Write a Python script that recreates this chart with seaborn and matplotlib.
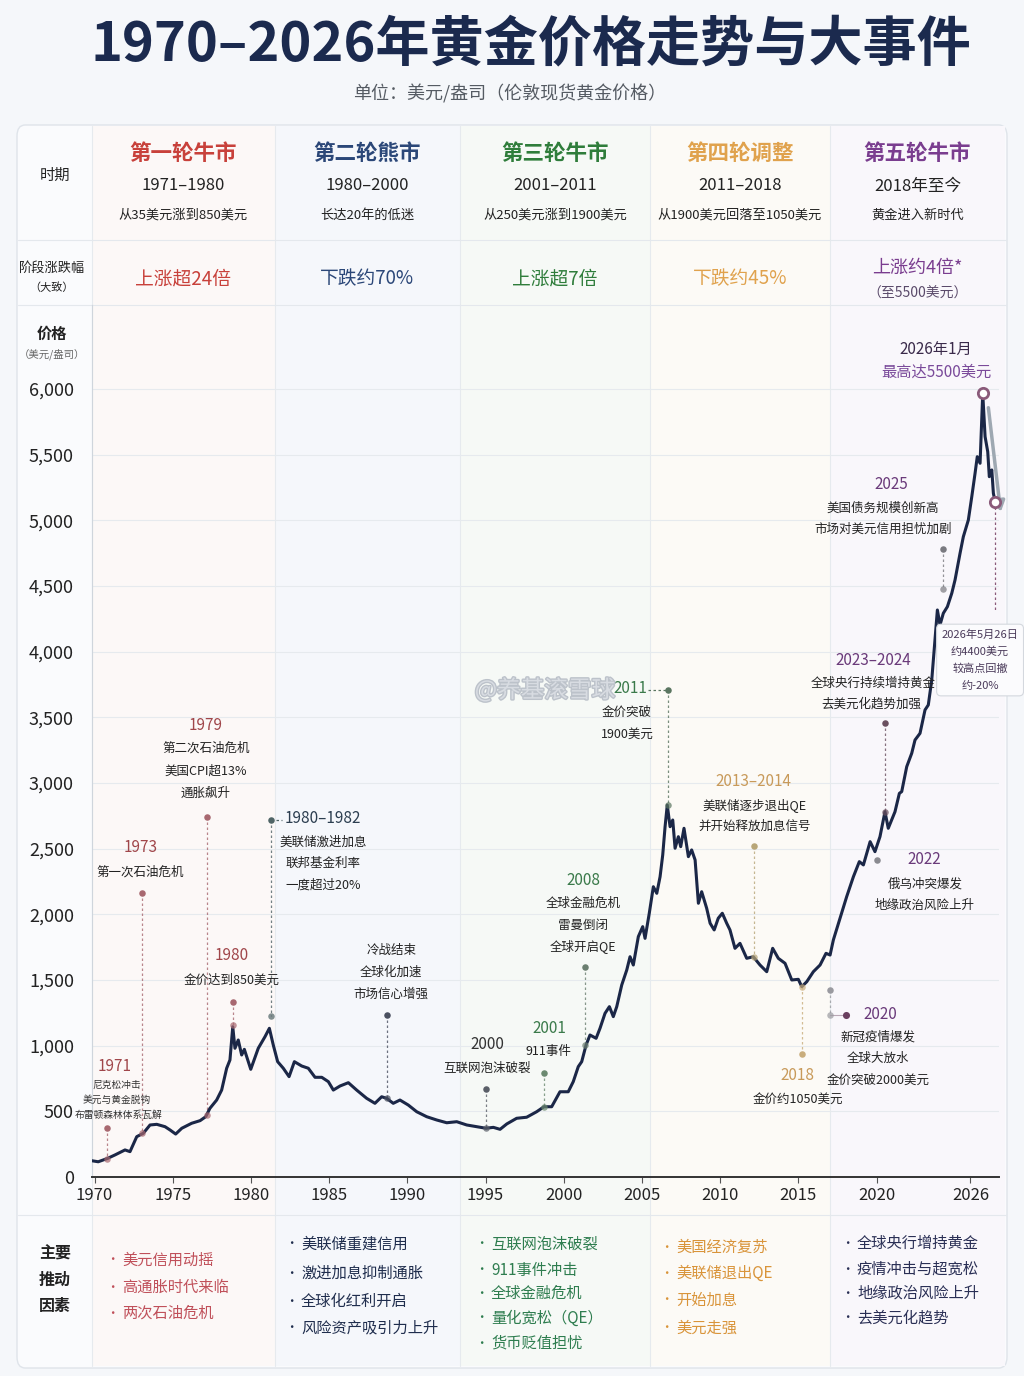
import matplotlib
matplotlib.use("Agg")
import matplotlib.pyplot as plt
from matplotlib.patches import Rectangle, FancyBboxPatch
import matplotlib.patheffects as pe
import pandas as pd
import seaborn as sns

# gold price trace (year, USD/oz)
years = [1969.82, 1970.24, 1970.84, 1971.31, 1971.95, 1972.27, 1972.70, 1973.12, 1973.55, 1973.98,
         1974.51, 1974.83, 1975.19, 1975.58, 1976.21, 1976.75, 1977.11, 1977.38, 1977.81, 1978.13,
         1978.45, 1978.66, 1978.84, 1978.98, 1979.19, 1979.41, 1979.58, 1979.99, 1980.47, 1980.90,
         1981.18, 1981.43, 1981.71, 1982.07, 1982.44, 1982.78, 1983.25, 1983.67, 1984.10, 1984.53,
         1984.95,
         1985.27, 1985.70, 1986.23, 1986.76, 1987.40, 1987.93, 1988.36, 1988.68, 1989.10, 1989.53,
         1990.06, 1990.60, 1991.24, 1991.88, 1992.52, 1993.16, 1993.80, 1994.44, 1995.03, 1995.50,
         1995.93, 1996.36, 1996.99, 1997.63, 1998.27, 1998.74, 1999.23, 1999.76,
         2000.29, 2000.61, 2000.93, 2001.15, 2001.43, 2001.68, 2002.07, 2002.32, 2002.64, 2002.92,
         2003.17, 2003.39, 2003.71, 2004.03, 2004.24, 2004.45, 2004.77, 2005.05, 2005.20, 2005.47,
         2005.73, 2005.95, 2006.16, 2006.33, 2006.48, 2006.62, 2006.80, 2006.97, 2007.12, 2007.33,
         2007.48, 2007.69, 2007.97, 2008.18, 2008.40, 2008.61, 2008.82, 2009.14, 2009.36, 2009.62,
         2009.88, 2010.14, 2010.42, 2010.63, 2010.95, 2011.27, 2011.70, 2012.12, 2012.55,
         2012.98, 2013.36, 2013.72, 2014.15, 2014.58, 2015.00, 2015.22, 2015.54, 2015.96, 2016.39,
         2016.77, 2017.03, 2017.24, 2017.67, 2018.09, 2018.52, 2018.90, 2019.16, 2019.59, 2019.90,
         2020.22, 2020.54, 2020.75, 2021.18, 2021.46,
         2021.61, 2021.93, 2022.25, 2022.46, 2022.78, 2023.10, 2023.31, 2023.53, 2023.74, 2023.89,
         2024.06, 2024.27, 2024.53, 2024.81, 2025.02, 2025.34, 2025.55, 2025.87, 2026.09, 2026.30,
         2026.44, 2026.62, 2026.79, 2026.94, 2027.11, 2027.21, 2027.37, 2027.47, 2027.58]
prices = [124, 116, 142, 168, 206, 193, 307, 333, 396, 401,
          383, 358, 327, 371, 409, 429, 459, 523, 586, 662,
          828, 891, 1144, 980, 1043, 929, 972, 820, 980, 1068,
          1132, 1005, 878, 828, 764, 878, 845, 828, 759, 759,
          726,
          662, 693, 718, 662, 599, 561, 611, 599, 561, 586,
          548, 497, 459, 434, 413, 421, 396, 383, 371, 378,
          363, 404, 447, 455, 497, 535, 535, 649,
          649, 726, 840, 878, 1005, 1081, 1056, 1132, 1246, 1297,
          1221, 1297, 1462, 1576, 1677, 1614, 1830, 1906, 1817, 2008,
          2210, 2160, 2286, 2452, 2667, 2832, 2667, 2718, 2503, 2591,
          2515, 2655, 2439, 2490, 2414, 2084, 2172, 2046, 1932, 1881,
          1970, 2008, 1932, 1881, 1741, 1779, 1665, 1677, 1614,
          1563, 1741, 1665, 1627, 1500, 1505, 1449, 1487, 1563, 1614,
          1703, 1690, 1805, 1970, 2134, 2286, 2401, 2376, 2553, 2477,
          2591, 2781, 2655, 2781, 2921,
          2934, 3124, 3226, 3327, 3378, 3556, 3594, 3784, 4089, 4317,
          4203, 4292, 4342, 4444, 4546, 4749, 4875, 5002, 5180, 5358,
          5484, 5434, 5967, 5637, 5522, 5332, 5383, 5206, 5142]

x_ticks = [1970, 1975, 1980, 1985, 1990, 1995, 2000, 2005, 2010, 2015, 2020, 2026]
y_ticks = [0, 500, 1000, 1500, 2000, 2500, 3000, 3500, 4000, 4500, 5000, 5500, 6000]

era_titles = ['第一轮牛市', '第二轮熊市', '第三轮牛市', '第四轮调整', '第五轮牛市']
era_spans = ['1971–1980', '1980–2000', '2001–2011', '2011–2018', '2018年至今']
era_desc = ['从35美元涨到850美元', '长达20年的低迷', '从250美元涨到1900美元',
            '从1900美元回落至1050美元', '黄金进入新时代']
era_change = ['上涨超24倍', '下跌约70%', '上涨超7倍', '下跌约45%', '上涨约4倍*']
era_colors = ['#c8413b', '#2b4778', '#2f7d3b', '#e0a24d', '#7a3d8f']
era_tints = ['#fcf8f7', '#f5f7fb', '#f6f9f6', '#fcfaf6', '#f9f7fb']
drivers = [['美元信用动摇', '高通胀时代来临', '两次石油危机'],
           ['美联储重建信用', '激进加息抑制通胀', '全球化红利开启', '风险资产吸引力上升'],
           ['互联网泡沫破裂', '911事件冲击', '全球金融危机', '量化宽松（QE）', '货币贬值担忧'],
           ['美国经济复苏', '美联储退出QE', '开始加息', '美元走强'],
           ['全球央行增持黄金', '疫情冲击与超宽松', '地缘政治风险上升', '去美元化趋势']]
driver_colors = ['#c0505a', '#1f2d4d', '#2e7d4f', '#d9943a', '#2a2f55']

# event stems: year, dot price, price where it meets the curve, colour
stems = [(1970.80, 373, 137, '#a86870'), (1973.04, 2166, 333, '#a86870'),
         (1977.19, 2741, 472, '#a86870'), (1978.86, 1332, 1157, '#a86870'),
         (1981.29, 2718, 1226, '#4f6466'), (1988.70, 1233, 599, '#4a5060'),
         (1995.03, 670, 371, '#5a5f68'), (1998.74, 792, 535, '#6b8a70'),
         (2001.36, 1599, 1005, '#6b7f70'), (2006.65, 3708, 2832, '#5a7560'),
         (2012.17, 2520, 1677, '#b8a678'), (2015.24, 933, 1447, '#c9ad7c'),
         (2017.01, 1424, 1230, '#9a9aa0'), (2020.54, 3457, 2781, '#6a4f5f'),
         (2024.23, 4782, 4477, '#7a7a80')]

# event labels: year, price, text, colour, size
labels = [
    (1971.31, 838, '1971', '#a0464a', 11), (1971.45, 700, '尼克松冲击', '#333', 7),
    (1971.45, 586, '美元与黄金脱钩', '#333', 7), (1971.55, 472, '布雷顿森林体系瓦解', '#333', 7),
    (1972.92, 2505, '1973', '#a0464a', 11), (1972.92, 2322, '第一次石油危机', '#222', 9),
    (1977.13, 3441, '1979', '#a0464a', 11), (1977.13, 3266, '第二次石油危机', '#222', 9),
    (1977.13, 3091, '美国CPI超13%', '#222', 9), (1977.13, 2924, '通胀飙升', '#222', 9),
    (1978.79, 1683, '1980', '#a0464a', 11), (1978.79, 1500, '金价达到850美元', '#222', 9),
    (1984.61, 2733, '1980–1982', '#2c3e50', 11), (1984.61, 2551, '美联储激进加息', '#222', 9),
    (1984.61, 2391, '联邦基金利率', '#222', 9), (1984.61, 2223, '一度超过20%', '#222', 9),
    (1988.96, 1721, '冷战结束', '#222', 9), (1988.96, 1561, '全球化加速', '#222', 9),
    (1988.96, 1393, '市场信心增强', '#222', 9),
    (1995.09, 1005, '2000', '#333', 11), (1995.09, 830, '互联网泡沫破裂', '#222', 9),
    (1999.06, 1134, '2001', '#3a7a4a', 11), (1999.0, 952, '911事件', '#222', 9),
    (2001.23, 2261, '2008', '#3a7a4a', 11), (2001.23, 2086, '全球金融危机', '#222', 9),
    (2001.23, 1919, '雷曼倒闭', '#222', 9), (2001.23, 1759, '全球开启QE', '#222', 9),
    (2004.24, 3716, '2011', '#3a7a4a', 11), (2004.05, 3541, '金价突破', '#222', 9),
    (2004.1, 3373, '1900美元', '#222', 9),
    (2012.10, 3008, '2013–2014', '#c89a5a', 11), (2012.2, 2832, '美联储逐步退出QE', '#222', 9),
    (2012.2, 2672, '并开始释放加息信号', '#222', 9),
    (2014.92, 769, '2018', '#c89a5a', 11), (2014.98, 594, '金价约1050美元', '#222', 9),
    (2020.22, 1241, '2020', '#6a3a7a', 11), (2020.09, 1066, '新冠疫情爆发', '#222', 9),
    (2020.09, 906, '全球大放水', '#222', 9), (2020.09, 739, '金价突破2000美元', '#222', 9),
    (2023.03, 2414, '2022', '#6a3a7a', 11), (2023.09, 2231, '俄乌冲突爆发', '#222', 9),
    (2023.09, 2071, '地缘政治风险上升', '#222', 9),
    (2019.77, 3929, '2023–2024', '#6a3a7a', 11), (2019.77, 3761, '全球央行持续增持黄金', '#222', 9),
    (2019.64, 3601, '去美元化趋势加强', '#222', 9),
    (2020.92, 5269, '2025', '#6a3a7a', 11), (2020.41, 5094, '美国债务规模创新高', '#222', 9),
    (2020.41, 4934, '市场对美元信用担忧加剧', '#222', 9),
    (2023.80, 6297, '2026年1月', '#3a2a4a', 11), (2023.80, 6129, '最高达5500美元', '#7a4a9a', 11),
]

peak_year, peak_price = 2026.79, 5967
last_year, last_price = 2027.58, 5142

sns.set_theme(style="white")
plt.rcParams['font.family'] = ['Noto Sans CJK SC', 'DejaVu Sans']
plt.rcParams['axes.unicode_minus'] = False

W, H = 1024, 1376
fig = plt.figure(figsize=(W / 100, H / 100), dpi=100)
fig.patch.set_facecolor('#f5f7fa')


def fx(x):
    return x / W


def fy(y):
    return 1 - y / H


def ftext(x, y, s, **kw):
    kw.setdefault('ha', 'center')
    kw.setdefault('va', 'center')
    fig.text(fx(x), fy(y), s, **kw)


def frect(x0, y0, x1, y1, **kw):
    fig.add_artist(Rectangle((fx(x0), fy(y1)), fx(x1) - fx(x0), fy(y0) - fy(y1),
                             transform=fig.transFigure, **kw))


def fline(x0, y0, x1, y1, **kw):
    fig.add_artist(plt.Line2D([fx(x0), fx(x1)], [fy(y0), fy(y1)], transform=fig.transFigure, **kw))


# panel + era tints
fig.add_artist(FancyBboxPatch((fx(17), fy(1368)), fx(1007) - fx(17), fy(125) - fy(1368),
                              boxstyle='round,pad=0,rounding_size=0.008', transform=fig.transFigure,
                              facecolor='#fafbfd', edgecolor='#dfe4ea', lw=1, zorder=-3))
edges = [92, 275, 460, 650, 830, 1005]
for i in range(5):
    frect(edges[i], 126, edges[i + 1], 1366, facecolor=era_tints[i], edgecolor='none', zorder=-2)
for x in edges[:-1]:
    fline(x, 126, x, 1366, color='#e6eaee', lw=0.8, zorder=-1)
for y in [240, 305, 1215]:
    fline(18, y, 1006, y, color='#e4e8ed', lw=0.8, zorder=-1)

# title
ftext(531, 45, '1970–2026年黄金价格走势与大事件', fontsize=39, fontweight='heavy', color='#1b2a4e')
ftext(510, 94, '单位：美元/盎司（伦敦现货黄金价格）', fontsize=13, color='#555b63')

# header table
ftext(55, 175, '时期', fontsize=11, color='#222')
ftext(52, 268, '阶段涨跌幅', fontsize=9.5, color='#222')
ftext(52, 288, '（大致）', fontsize=8, color='#222')
for i in range(5):
    cx = (edges[i] + edges[i + 1]) / 2
    ftext(cx, 153, era_titles[i], fontsize=15.5, fontweight='bold', color=era_colors[i])
    ftext(cx, 186, era_spans[i], fontsize=12, color='#222')
    ftext(cx, 215, era_desc[i], fontsize=9.5, color='#222')
    if i < 4:
        ftext(cx, 279, era_change[i], fontsize=13.5, color=era_colors[i])
    else:
        ftext(cx, 268, era_change[i], fontsize=13, color=era_colors[i])
        ftext(cx, 294, '（至5500美元）', fontsize=10, color='#5a4a6a')

# footer table
for j, t in enumerate(['主要', '推动', '因素']):
    ftext(55, 1254 + j * 26, t, fontsize=11.5, fontweight='bold', color='#222')
text_x = [122, 301, 491, 676, 857]
text_y = [[1260, 1287, 1313], [1244, 1273, 1301, 1328], [1244, 1270, 1293, 1318, 1343],
          [1247, 1273, 1300, 1328], [1243, 1269, 1293, 1318]]
for i in range(5):
    for t, y in zip(drivers[i], text_y[i]):
        ftext(text_x[i] - 10, y, '•', fontsize=9, color=driver_colors[i])
        ftext(text_x[i], y, t, fontsize=11, color=driver_colors[i], ha='left')

# chart
ax = fig.add_axes([fx(92), fy(1177), fx(999) - fx(92), fy(305) - fy(1177)])
ax.set_facecolor('none')
df = pd.DataFrame({'year': years, 'price': prices})
sns.lineplot(data=df, x='year', y='price', estimator=None, sort=False, color='#1b2747',
             linewidth=2.2, ax=ax, zorder=5)
ax.set_xlim(1969.84, 2027.83)
ax.set_ylim(0, 6639)
ax.set_xticks(x_ticks)
ax.set_xticklabels([str(v) for v in x_ticks])
ax.set_yticks(y_ticks)
ax.set_yticklabels([f'{v:,}' for v in y_ticks])
ax.set_xlabel('')
ax.set_ylabel('')
ax.tick_params(axis='y', length=6, width=0.8, color='#c5ccd4', pad=7, labelsize=13, labelcolor='#222')
ax.tick_params(axis='x', length=4, width=0.8, color='#555', pad=3, labelsize=12, labelcolor='#222',
               bottom=True)
ax.grid(axis='y', color='#e6eaee', lw=0.8)
ax.grid(axis='x', visible=False)
for s in ['top', 'right']:
    ax.spines[s].set_visible(False)
ax.spines['bottom'].set_color('#333')
ax.spines['bottom'].set_linewidth(1.4)
ax.spines['left'].set_color('#cfd5dc')
ax.spines['left'].set_linewidth(0.8)

ftext(52, 334, '价格', fontsize=11, fontweight='bold', color='#222')
ftext(52, 354, '（美元/盎司）', fontsize=7.5, color='#666')

# watermark
ftext(545, 690, '@养基滚雪球', fontsize=17, color='#d8dce2', zorder=1,
      path_effects=[pe.withStroke(linewidth=2, foreground='#bcc2ca')])

# event stems
for x, ytop, yend, c in stems:
    ax.plot([x, x], [ytop, yend], ls=(0, (2, 2)), lw=0.9, color=c, alpha=0.8, zorder=4)
    ax.scatter([x], [ytop], s=22, color=c, zorder=6, lw=0)
    ax.scatter([x], [yend], s=22, color=c, alpha=0.7, zorder=6, lw=0)
ax.plot([1981.29, 1981.99], [2718, 2718], ls=(0, (2, 2)), lw=0.9, color='#4f6466')
ax.plot([2005.39, 2006.65], [3708, 3708], ls=(0, (2, 2)), lw=0.9, color='#5a7560')
ax.plot([2017.01, 2018.05], [1230, 1230], lw=0.8, color='#b9a8b6')
ax.scatter([2018.05], [1230], s=26, color='#6a3f5f', zorder=6, lw=0)
ax.scatter([2020.03], [2414], s=22, color='#8a8a90', zorder=6, lw=0)

for x, y, t, c, s in labels:
    ax.text(x, y, t, ha='center', va='center', fontsize=s, color=c, zorder=7)

# peak / latest markers
ax.plot([last_year, last_year], [last_price, 4302], ls=(0, (2, 2)), lw=0.9, color='#8a5a7a',
        clip_on=False)
ax.annotate('', xy=(2027.96, 5040), xytext=(2027.13, 5878), annotation_clip=False,
            arrowprops=dict(arrowstyle='-|>', color='#9ea8b2', lw=2.5, mutation_scale=16))
ax.scatter([peak_year, last_year], [peak_price, last_price], s=55, facecolor='white',
           edgecolor='#8a5a7a', linewidths=2, zorder=8, clip_on=False)
ax.text(2026.62, 3936, '2026年5月26日\n约4400美元\n较高点回撤\n约-20%', ha='center', va='center',
        fontsize=8, color='#4a3a5a', linespacing=1.8, zorder=8, clip_on=False,
        bbox=dict(boxstyle='round,pad=0.45,rounding_size=0.4', facecolor='#fbfbfd',
                  edgecolor='#d4d8de', lw=0.8))

fig.savefig('out.png', dpi=100, facecolor=fig.get_facecolor())
